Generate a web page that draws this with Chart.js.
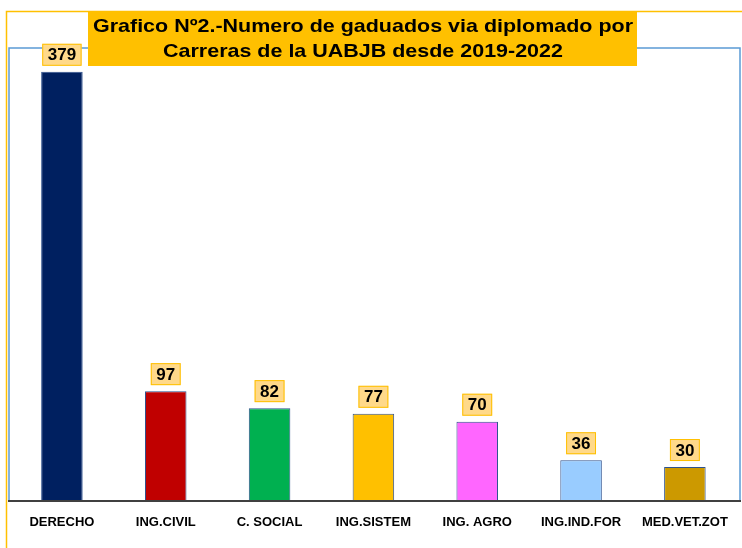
<!DOCTYPE html>
<html>
<head>
<meta charset="utf-8">
<script src="https://cdn.jsdelivr.net/npm/chart.js@4.4.1/dist/chart.umd.min.js"></script>
<style>
  html, body { margin: 0; padding: 0; background: #fff; }
  #wrap { width: 742px; height: 548px; }
</style>
</head>
<body>
<div id="wrap"><canvas id="c" width="742" height="548"></canvas></div>
<script>
const careers = ['DERECHO', 'ING.CIVIL', 'C. SOCIAL', 'ING.SISTEM', 'ING. AGRO', 'ING.IND.FOR', 'MED.VET.ZOT'];
const graduates = [379, 97, 82, 77, 70, 36, 30];
const barColors = ['#002060', '#C00000', '#00B050', '#FFC000', '#FF66FF', '#99CCFF', '#CC9900'];
const titleLines = ['Grafico Nº2.-Numero de gaduados via diplomado por', 'Carreras de la UABJB desde 2019-2022'];

// frame, plot border and axis line
const framePlugin = {
  id: 'frame',
  beforeDraw(chart) {
    const ctx = chart.ctx;
    const a = chart.chartArea;
    ctx.save();
    ctx.strokeStyle = '#FFC000';
    ctx.lineWidth = 1.5;
    ctx.beginPath();
    ctx.moveTo(6.5, 548);
    ctx.lineTo(6.5, 11.5);
    ctx.lineTo(742, 11.5);
    ctx.stroke();

    ctx.strokeStyle = '#5B9BD5';
    ctx.lineWidth = 1.5;
    ctx.beginPath();
    ctx.moveTo(9, a.bottom);
    ctx.lineTo(9, a.top);
    ctx.lineTo(740, a.top);
    ctx.lineTo(740, a.bottom);
    ctx.stroke();
    ctx.restore();
  },
  afterDatasetsDraw(chart) {
    const ctx = chart.ctx;
    const a = chart.chartArea;
    ctx.save();
    ctx.strokeStyle = '#404040';
    ctx.lineWidth = 2;
    ctx.beginPath();
    ctx.moveTo(8, a.bottom);
    ctx.lineTo(741, a.bottom);
    ctx.stroke();
    ctx.restore();
  }
};

// title box (drawn before the value labels so 379 sits on top of the frame)
const titlePlugin = {
  id: 'titlebox',
  afterDatasetsDraw(chart) {
    const ctx = chart.ctx;
    ctx.save();
    ctx.fillStyle = '#FFC000';
    ctx.fillRect(88, 12, 549, 54);
    ctx.font = 'bold 19px "Liberation Sans", Arial, sans-serif';
    const sx = 540 / ctx.measureText(titleLines[0]).width;
    ctx.fillStyle = '#000';
    ctx.textAlign = 'center';
    ctx.textBaseline = 'middle';
    ctx.translate(363, 0);
    ctx.scale(sx, 1);
    ctx.fillText(titleLines[0], 0, 27);
    ctx.fillText(titleLines[1], 0, 52);
    ctx.restore();
  }
};

// value boxes above bars
const valuePlugin = {
  id: 'values',
  afterDatasetsDraw(chart) {
    const ctx = chart.ctx;
    const meta = chart.getDatasetMeta(0);
    ctx.save();
    ctx.font = 'bold 17px "Liberation Sans", Arial, sans-serif';
    ctx.textAlign = 'center';
    ctx.textBaseline = 'middle';
    meta.data.forEach((bar, i) => {
      const txt = String(graduates[i]);
      const w = ctx.measureText(txt).width + 11;
      const h = 22;
      const x = bar.x - w / 2;
      const y = bar.y - 6 - h;
      ctx.fillStyle = '#FFD98A';
      ctx.fillRect(x, y, w, h);
      ctx.strokeStyle = '#FFC000';
      ctx.lineWidth = 1;
      ctx.strokeRect(x + 0.5, y + 0.5, w - 1, h - 1);
      ctx.fillStyle = '#000';
      ctx.fillText(txt, bar.x, y + h / 2 + 1);
    });
    ctx.restore();
  }
};

new Chart(document.getElementById('c'), {
  type: 'bar',
  data: {
    labels: careers,
    datasets: [{
      data: graduates,
      backgroundColor: barColors,
      borderColor: '#2F528F',
      borderWidth: 1,
      barPercentage: 0.8,
      categoryPercentage: 0.5
    }]
  },
  options: {
    responsive: false,
    animation: false,
    devicePixelRatio: 1,
    layout: { padding: { left: 10, right: 2, top: 48, bottom: 0 } },
    plugins: {
      legend: { display: false },
      title: { display: false },
      tooltip: { enabled: false }
    },
    scales: {
      x: {
        grid: { display: false, drawTicks: false },
        border: { display: false },
        ticks: {
          color: '#000',
          padding: 14,
          maxRotation: 0,
          font: { family: '"Liberation Sans", Arial, sans-serif', size: 13, weight: 'bold' }
        },
        afterFit(scale) { scale.height = 47; }
      },
      y: {
        display: false,
        min: 0,
        max: 400
      }
    }
  },
  plugins: [framePlugin, titlePlugin, valuePlugin]
});
</script>
</body>
</html>
